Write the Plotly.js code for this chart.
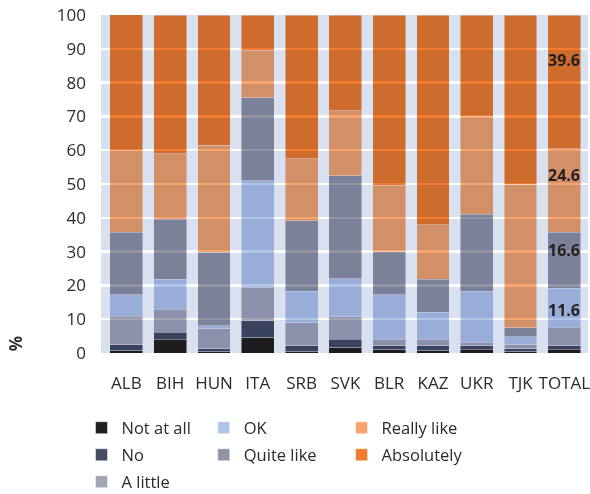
<!DOCTYPE html>
<html>
<head>
<meta charset="utf-8">
<script src="https://cdn.plot.ly/plotly-3.0.1.min.js"></script>
<style>
  html, body { margin: 0; padding: 0; background: #fff; }
  #chart { width: 590px; height: 494px; }
  /* bars are blended onto the tinted plot area, so the gridlines show through */
  .cartesianlayer .bars path { mix-blend-mode: multiply; }
</style>
</head>
<body>
<div id="chart"></div>
<script>
const countries = ['ALB', 'BIH', 'HUN', 'ITA', 'SRB', 'SVK', 'BLR', 'KAZ', 'UKR', 'TJK', 'TOTAL'];

const notAtAll   = [0.7, 4.1, 0.3,  4.5, 0.4, 1.5,  0.9,  0.7,  1.1,  0.4,  1.1];
const no         = [1.7, 2.0, 0.9,  5.1, 1.7, 2.6,  1.2,  1.4,  1.1,  0.8,  1.0];
const aLittle    = [8.5, 6.8, 6.0,  9.8, 6.9, 6.6,  2.0,  2.0,  1.0,  1.2,  5.5];
const ok         = [6.3, 8.9, 0.8, 31.5, 9.3, 11.2, 13.1, 7.9, 15.1,  2.4, 11.6];
const quiteLike  = [18.5, 17.8, 21.8, 24.6, 20.8, 30.6, 12.8, 9.8, 22.7, 2.7, 16.6];
const reallyLike = [24.1, 19.3, 31.7, 14.1, 18.3, 19.1, 19.7, 16.1, 28.9, 42.4, 24.6];
const absolutely = [40.6, 41.1, 38.5, 10.4, 42.6, 28.4, 50.3, 62.1, 30.1, 50.1, 39.6];

const seriesNames = ['Not at all', 'No', 'A little', 'OK', 'Quite like', 'Really like', 'Absolutely'];
const seriesValues = [notAtAll, no, aLittle, ok, quiteLike, reallyLike, absolutely];

// values printed on the TOTAL bar
const labelledSeries = ['OK', 'Quite like', 'Really like', 'Absolutely'];

const colors = {
  'Not at all': '#231f20',
  'No': '#444c64',
  'A little': '#a3a5b5',
  'OK': '#b3c5e6',
  'Quite like': '#8f93a3',
  'Really like': '#f7a46e',
  'Absolutely': '#f37b30'
};

const textColor = '#2b2b2b';
const font = 'Open Sans, Noto Sans, sans-serif';

// legend is laid out column by column: [column, row] for every series
const legendSlot = {
  'Not at all': [0, 0], 'No': [0, 1], 'A little': [0, 2],
  'OK': [1, 0], 'Quite like': [1, 1],
  'Really like': [2, 0], 'Absolutely': [2, 1]
};
const legendColX = [-0.04, 0.211, 0.494];
const legendRowY = [-0.170, -0.250, -0.330];

const traces = seriesNames.map((name, i) => ({
  type: 'bar',
  name: name,
  x: countries,
  y: seriesValues[i],
  legend: i === 0 ? 'legend' : 'legend' + (i + 1),
  cliponaxis: false,
  marker: { color: colors[name], line: { color: 'rgba(255,255,255,0.6)', width: 0.8 } },
  hoverinfo: 'name+y'
}));

// label heights on the TOTAL bar, as placed in the original
const labelY = { 'OK': 12.7, 'Quite like': 30.5, 'Really like': 52.7, 'Absolutely': 86.7 };
const last = countries.length - 1;
const annotations = labelledSeries.map(name => ({
  xref: 'x', yref: 'y',
  x: countries[last],
  y: labelY[name],
  text: seriesValues[seriesNames.indexOf(name)][last].toFixed(1),
  showarrow: false,
  font: { family: font, size: 16, color: '#231f20', weight: 'bold' }
}));
annotations.push({
  xref: 'paper', yref: 'paper',
  x: -0.175, y: 0.028,
  xanchor: 'center', yanchor: 'middle',
  text: '%',
  textangle: -90,
  showarrow: false,
  font: { family: font, size: 17, color: textColor, weight: 'bold' }
});

const layout = {
  width: 590,
  height: 494,
  margin: { l: 101, r: 2, t: 15, b: 141, autoexpand: false },
  paper_bgcolor: '#ffffff',
  plot_bgcolor: '#d9e0f0',
  barmode: 'stack',
  bargap: 0.25,
  font: { family: font, size: 17, color: textColor },
  xaxis: {
    range: [-0.58, 10.54],
    showgrid: false,
    zeroline: false,
    showline: false,
    ticks: '',
    ticklabelstandoff: 18,
    tickfont: { family: font, size: 17, color: textColor }
  },
  yaxis: {
    range: [0, 100],
    dtick: 10,
    showgrid: true,
    gridcolor: '#ffffff',
    gridwidth: 2.5,
    zeroline: false,
    showline: false,
    ticks: '',
    ticklabelstandoff: 14,
    tickfont: { family: font, size: 17, color: textColor }
  },
  showlegend: true,
  annotations: annotations
};

seriesNames.forEach((name, i) => {
  const [col, row] = legendSlot[name];
  layout[i === 0 ? 'legend' : 'legend' + (i + 1)] = {
    orientation: 'v',
    xanchor: 'left',
    yanchor: 'top',
    x: legendColX[col],
    y: legendRowY[row],
    bgcolor: 'rgba(0,0,0,0)',
    font: { family: font, size: 16.5, color: textColor }
  };
});

Plotly.newPlot('chart', traces, layout, { displayModeBar: false, staticPlot: true });
</script>
</body>
</html>
